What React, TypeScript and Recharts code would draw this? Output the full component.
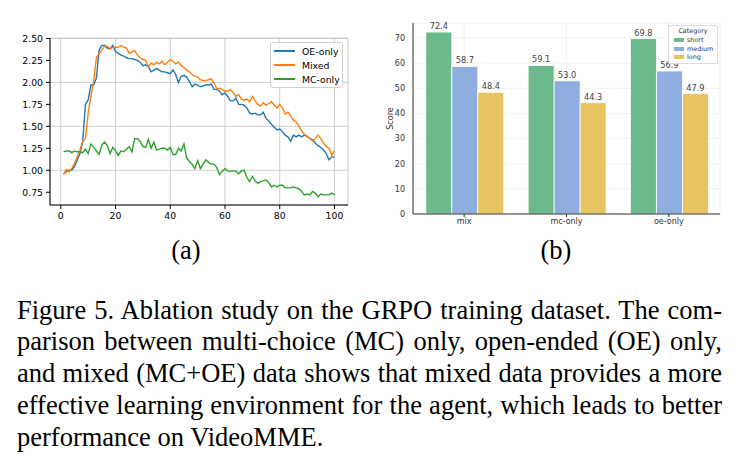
import { LineChart, Line, XAxis, YAxis, CartesianGrid, Legend, BarChart, Bar, LabelList } from "recharts";

// (a) training curves, one value per step (1..100)
const oeOnly = [
  0.96, 0.985, 1.0, 1.0, 1.04, 1.12, 1.19, 1.33, 1.75, 1.8,
  1.97, 1.97, 2.05, 2.37, 2.42, 2.42, 2.39, 2.38, 2.42, 2.35,
  2.33, 2.31, 2.3, 2.28, 2.27, 2.27, 2.26, 2.25, 2.23, 2.19,
  2.2, 2.18, 2.12, 2.14, 2.16, 2.14, 2.12, 2.12, 2.11, 2.1,
  2.14, 2.09, 2.0, 2.07, 2.08, 2.06, 2.01, 1.95, 1.98, 1.97,
  1.95, 1.96, 1.97, 1.97, 1.98, 1.92, 1.92, 1.9, 1.86, 1.88,
  1.84, 1.79, 1.79, 1.82, 1.75, 1.75, 1.74, 1.71, 1.65, 1.64,
  1.65, 1.63, 1.63, 1.66, 1.59, 1.56, 1.52, 1.49, 1.46, 1.47,
  1.44, 1.4, 1.38, 1.33, 1.4, 1.38, 1.4, 1.38, 1.4, 1.39,
  1.36, 1.35, 1.31, 1.28, 1.26, 1.23, 1.19, 1.12, 1.15, 1.15,
];
const mixed = [
  0.95, 1.01, 0.98, 1.02, 1.08, 1.15, 1.23, 1.33, 1.36, 1.65,
  1.84, 2.01, 2.28, 2.33, 2.37, 2.41, 2.41, 2.38, 2.4, 2.4,
  2.4, 2.42, 2.4, 2.39, 2.33, 2.35, 2.36, 2.31, 2.28, 2.26,
  2.25, 2.18, 2.22, 2.2, 2.23, 2.21, 2.24, 2.2, 2.23, 2.26,
  2.24, 2.21, 2.23, 2.19, 2.17, 2.14, 2.12, 2.09, 2.07, 2.06,
  2.03, 2.02, 2.02, 2.03, 2.04, 1.99, 1.93, 1.93, 1.92, 1.9,
  1.9, 1.92, 1.88, 1.84, 1.86, 1.81, 1.8, 1.81, 1.78, 1.84,
  1.79, 1.75, 1.73, 1.77, 1.74, 1.76, 1.78, 1.74, 1.71, 1.75,
  1.71, 1.64, 1.66, 1.62, 1.57, 1.55, 1.5, 1.45, 1.41, 1.38,
  1.37, 1.33, 1.36, 1.4, 1.36, 1.31, 1.27, 1.25, 1.17, 1.22,
];
const mcOnly = [
  1.21, 1.22, 1.22, 1.2, 1.22, 1.21, 1.21, 1.2, 1.24, 1.19,
  1.3, 1.26, 1.22, 1.18, 1.29, 1.32, 1.28, 1.19, 1.26, 1.22,
  1.17, 1.22, 1.21, 1.24, 1.27, 1.21, 1.36, 1.36, 1.33, 1.27,
  1.26, 1.35, 1.25, 1.32, 1.23, 1.24, 1.25, 1.25, 1.23, 1.26,
  1.18, 1.18, 1.25, 1.22, 1.3, 1.14, 1.1, 1.07, 1.02, 1.11,
  1.02, 1.07, 1.12, 1.09, 1.07, 1.07, 1.03, 0.95, 0.99, 1.02,
  0.99, 0.99, 0.99, 0.99, 0.96, 0.99, 1.0, 0.92, 0.87, 0.93,
  0.88, 0.85, 0.87, 0.88, 0.89, 0.86, 0.81, 0.83, 0.81, 0.83,
  0.83, 0.8, 0.8, 0.8, 0.81, 0.8, 0.79, 0.76, 0.72, 0.73,
  0.72, 0.76, 0.74, 0.7, 0.73, 0.72, 0.72, 0.72, 0.74, 0.72,
];
const xTicks = [0, 20, 40, 60, 80, 100];
const yTicks = [0.75, 1.0, 1.25, 1.5, 1.75, 2.0, 2.25, 2.5];

// (b) VideoMME scores by training data
const groups = ["mix", "mc-only", "oe-only"];
const shortScores = [72.4, 59.1, 69.8];
const mediumScores = [58.7, 53.0, 56.9];
const longScores = [48.4, 44.3, 47.9];
const scoreTicks = [0, 10, 20, 30, 40, 50, 60, 70];

const lineSeries = [
  { key: "oe", name: "OE-only", color: "#1f77b4" },
  { key: "mixed", name: "Mixed", color: "#ff7f0e" },
  { key: "mc", name: "MC-only", color: "#2ca02c" },
];
const barSeries = [
  { key: "short", name: "short", color: "#6cba8b" },
  { key: "medium", name: "medium", color: "#8eaee0" },
  { key: "long", name: "long", color: "#e8c460" },
];

const curveData = oeOnly.map((v, i) => ({ step: i + 1, oe: v, mixed: mixed[i], mc: mcOnly[i] }));
const scoreData = groups.map((g, i) => ({ name: g, short: shortScores[i], medium: mediumScores[i], long: longScores[i] }));

const mpl = "DejaVu Sans";
const serif = "Liberation Serif";

const CurveLegend = () => (
  <div style={{ width: 71, height: 44, border: "1px solid #d0d0d0", borderRadius: 3, background: "rgba(255,255,255,0.85)", fontFamily: mpl, fontSize: 9.3, color: "#000", position: "relative" }}>
    {lineSeries.map((s, i) => (
      <div key={s.key} style={{ position: "absolute", left: 3, top: 2 + i * 14, height: 12, display: "flex", alignItems: "center" }}>
        <span style={{ display: "inline-block", width: 21, height: 1.6, background: s.color }} />
        <span style={{ marginLeft: 7 }}>{s.name}</span>
      </div>
    ))}
  </div>
);

const ScoreLegend = () => (
  <div style={{ width: 48, height: 37, border: "1px solid #dcdcdc", borderRadius: 2, background: "rgba(255,255,255,0.9)", fontFamily: mpl, fontSize: 6.4, color: "#333", position: "relative" }}>
    <div style={{ position: "absolute", left: 0, width: 48, top: 1, textAlign: "center" }}>Category</div>
    {barSeries.map((s, i) => (
      <div key={s.key} style={{ position: "absolute", left: 5, top: 10 + i * 8.7, height: 8, display: "flex", alignItems: "center" }}>
        <span style={{ display: "inline-block", width: 10, height: 4, background: s.color }} />
        <span style={{ marginLeft: 3 }}>{s.name}</span>
      </div>
    ))}
  </div>
);

const captionLines = [
  "Figure 5. Ablation study on the GRPO training dataset. The com-",
  "parison between multi-choice (MC) only, open-ended (OE) only,",
  "and mixed (MC+OE) data shows that mixed data provides a more",
  "effective learning environment for the agent, which leads to better",
  "performance on VideoMME.",
];

export default function App() {
  return (
    <div style={{ position: "absolute", left: 0, top: 0, width: 740, height: 472, background: "#fff", overflow: "hidden" }}>
      <div style={{ position: "absolute", left: 0, top: 0 }}>
        <LineChart width={360} height={230} data={curveData} margin={{ top: 38, right: 12, bottom: 5, left: 0 }}>
          <CartesianGrid stroke="#c8c8c8" strokeWidth={0.9} />
          <XAxis dataKey="step" type="number" domain={[-3.95, 104.95]} ticks={xTicks} allowDataOverflow
            height={20} tickSize={4} tickMargin={3} stroke="#000" tick={{ fill: "#000", fontSize: 9.3, fontFamily: mpl }} />
          <XAxis xAxisId="top" orientation="top" dataKey="step" type="number" domain={[-3.95, 104.95]} allowDataOverflow
            height={0} tick={false} tickLine={false} stroke="#000" />
          <YAxis type="number" domain={[0.605, 2.505]} ticks={yTicks} allowDataOverflow width={50}
            tickSize={4} tickMargin={3} stroke="#000" tickFormatter={(v: number) => v.toFixed(2)}
            tick={{ fill: "#000", fontSize: 9.3, fontFamily: mpl }} />
          <YAxis yAxisId="right" orientation="right" type="number" domain={[0.605, 2.505]} allowDataOverflow
            width={0} tick={false} tickLine={false} stroke="#000" />
          {lineSeries.map((s) => (
            <Line key={s.key} type="linear" dataKey={s.key} name={s.name} stroke={s.color} strokeWidth={1.4} dot={false} isAnimationActive={false} />
          ))}
          <Legend layout="vertical" align="center" verticalAlign="middle" content={() => <CurveLegend />}
            wrapperStyle={{ left: 270, top: 42, width: 73, height: 46 }} />
        </LineChart>
      </div>

      <div style={{ position: "absolute", left: 380, top: 0 }}>
        <BarChart width={360} height={230} data={scoreData} margin={{ top: 23, right: 20, bottom: 0, left: 0 }} barCategoryGap="12.5%" barGap={0}>
          <CartesianGrid stroke="#ececec" strokeWidth={0.8} />
          <XAxis dataKey="name" height={16} tickSize={3} tickMargin={1} stroke="#333"
            tick={{ fill: "#333", fontSize: 8, fontFamily: mpl }} />
          <YAxis type="number" domain={[0, 76]} ticks={scoreTicks} width={33} tickSize={0} tickMargin={8} stroke="#333"
            tick={{ fill: "#333", fontSize: 8, fontFamily: mpl }}
            label={{ value: "Score", angle: -90, position: "insideLeft", offset: 10, style: { textAnchor: "middle", fill: "#333", fontSize: 8, fontFamily: mpl } }} />
          {barSeries.map((s) => (
            <Bar key={s.key} dataKey={s.key} name={s.name} fill={s.color} stroke="#ffffff" strokeWidth={0.8} isAnimationActive={false}>
              <LabelList dataKey={s.key} position="top" offset={3} formatter={(v: number) => Number(v).toFixed(1)}
                style={{ fill: "#444", fontSize: 8.2, fontFamily: mpl }} />
            </Bar>
          ))}
          <Legend layout="vertical" align="center" verticalAlign="middle" content={() => <ScoreLegend />}
            wrapperStyle={{ left: 288, top: 25, width: 50, height: 39 }} />
        </BarChart>
      </div>

      <div style={{ position: "absolute", left: 161, top: 235, width: 50, textAlign: "center", fontFamily: serif, fontSize: 26.5, lineHeight: "30px" }}>(a)</div>
      <div style={{ position: "absolute", left: 531, top: 235, width: 50, textAlign: "center", fontFamily: serif, fontSize: 26.5, lineHeight: "30px" }}>(b)</div>

      <div style={{ position: "absolute", left: 17, top: 294.5, width: 705, fontFamily: serif, fontSize: 26.5, lineHeight: "31.8px", color: "#000" }}>
        {captionLines.map((t, i) => (
          <div key={i} style={{ textAlign: "justify", textAlignLast: i < captionLines.length - 1 ? "justify" : "left" }}>{t}</div>
        ))}
      </div>
    </div>
  );
}
